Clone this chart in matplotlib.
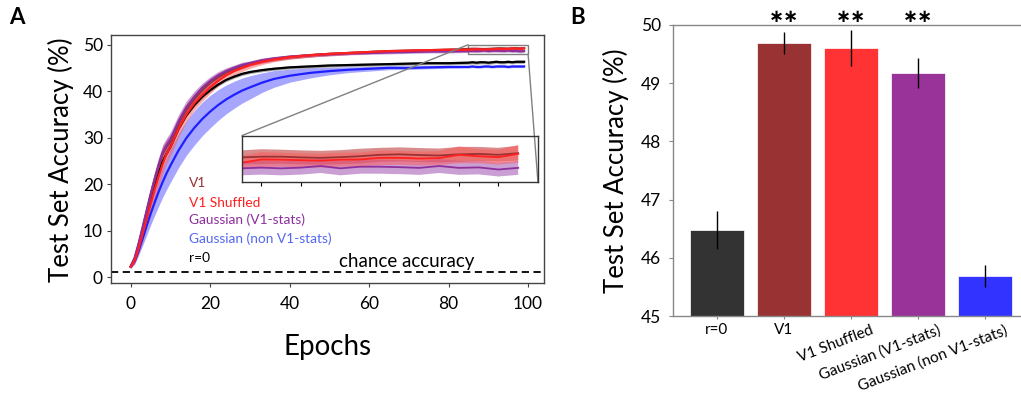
import numpy as np
import matplotlib
matplotlib.use("Agg")
import matplotlib.pyplot as plt
from matplotlib.transforms import ScaledTranslation
from mpl_toolkits.axes_grid1.inset_locator import mark_inset

plt.rcParams['font.family'] = ['Lato', 'DejaVu Sans']

# ---------------- data: panel A ----------------
epochs = [0, 1, 2, 3, 4, 5, 6, 7, 8, 9, 10, 12, 14, 16, 18, 20, 22, 24, 26, 28, 30,
          33, 36, 40, 45, 50, 55, 60, 65, 70, 75, 80,
          85, 86, 87, 88, 89, 90, 91, 92, 93, 94, 95, 96, 97, 98, 99]

acc_v1 = [2.3, 4.0, 7.0, 10.5, 14.0, 17.5, 20.8, 23.8, 26.5, 28.0, 29.2, 33.0, 36.0, 38.3, 40.2,
          41.8, 43.0, 44.0, 44.8, 45.4, 45.9, 46.5, 46.9, 47.3, 47.7, 48.0, 48.2, 48.4, 48.6,
          48.7, 48.8, 48.9,
          49.07, 49.10, 49.10, 49.07, 49.05, 49.08, 49.12, 49.18, 49.20, 49.17, 49.15, 49.20,
          49.22, 49.18, 49.25]
acc_shuf = [2.2, 3.6, 6.2, 9.3, 12.5, 15.7, 18.8, 21.6, 24.2, 26.5, 28.0, 31.8, 35.0, 37.4, 39.2,
            40.8, 42.2, 43.4, 44.3, 45.0, 45.6, 46.3, 46.8, 47.3, 47.7, 48.0, 48.2, 48.4, 48.6,
            48.7, 48.8, 48.9,
            48.84, 48.98, 48.97, 48.95, 48.93, 48.97, 48.98, 49.05, 49.05, 49.02, 49.04, 49.18,
            49.12, 49.08, 49.22]
acc_gauss = [2.3, 4.2, 7.3, 10.8, 14.3, 17.8, 21.0, 24.0, 26.7, 28.3, 29.6, 33.4, 36.5, 38.8, 40.7,
             42.2, 43.4, 44.3, 45.0, 45.6, 46.0, 46.6, 47.0, 47.4, 47.7, 47.9, 48.1, 48.2, 48.3,
             48.4, 48.5, 48.5,
             48.60, 48.63, 48.60, 48.63, 48.70, 48.60, 48.67, 48.67, 48.65, 48.62, 48.70, 48.62,
             48.64, 48.55, 48.62]
acc_nonv1 = [2.2, 3.4, 5.7, 8.3, 11.0, 13.6, 16.0, 18.3, 20.4, 22.3, 24.0, 27.2, 29.9, 32.1, 34.0,
             35.6, 37.0, 38.2, 39.2, 40.1, 40.8, 41.8, 42.6, 43.3, 43.9, 44.3, 44.6, 44.8, 45.0,
             45.0, 45.1, 45.2,
             45.2, 45.3, 45.2, 45.2, 45.3, 45.3, 45.2, 45.3, 45.3, 45.3, 45.2, 45.3, 45.3, 45.3, 45.3]
acc_r0 = [2.3, 3.9, 6.8, 10.0, 13.3, 16.5, 19.5, 22.3, 24.8, 26.5, 28.0, 31.8, 34.8, 37.0, 38.8,
          40.2, 41.4, 42.4, 43.1, 43.7, 44.1, 44.5, 44.8, 45.1, 45.3, 45.5, 45.6, 45.7, 45.8,
          45.9, 46.0, 46.0,
          46.1, 46.2, 46.1, 46.2, 46.2, 46.1, 46.2, 46.3, 46.2, 46.2, 46.3, 46.2, 46.3, 46.3, 46.3]

# half-widths of shaded bands
sd_v1 = [0.3, 0.6, 1.0, 1.3, 1.5, 1.6, 1.6, 1.6, 1.5, 1.5, 1.4, 1.3, 1.2, 1.1, 1.0,
         0.9, 0.8, 0.7, 0.6, 0.6, 0.5, 0.5, 0.45, 0.4, 0.4, 0.35, 0.35, 0.35, 0.3, 0.3, 0.3, 0.3,
         0.3, 0.32, 0.3, 0.3, 0.3, 0.3, 0.32, 0.3, 0.3, 0.3, 0.3, 0.32, 0.3, 0.3, 0.32]
sd_shuf = [0.3, 0.7, 1.2, 1.6, 1.9, 2.1, 2.2, 2.2, 2.2, 2.1, 2.0, 1.8, 1.6, 1.5, 1.4,
           1.3, 1.1, 1.0, 0.9, 0.8, 0.7, 0.6, 0.5, 0.45, 0.4, 0.35, 0.35, 0.35, 0.3, 0.3, 0.3, 0.3,
           0.3, 0.32, 0.3, 0.3, 0.3, 0.3, 0.3, 0.32, 0.3, 0.3, 0.3, 0.36, 0.3, 0.32, 0.38]
sd_gauss = [0.3, 0.6, 1.0, 1.3, 1.5, 1.6, 1.7, 1.7, 1.7, 1.6, 1.6, 1.5, 1.4, 1.2, 1.0,
            0.9, 0.8, 0.7, 0.6, 0.6, 0.5, 0.5, 0.45, 0.4, 0.35, 0.35, 0.3, 0.3, 0.3, 0.3, 0.3, 0.3,
            0.3, 0.3, 0.3, 0.3, 0.3, 0.3, 0.3, 0.3, 0.3, 0.3, 0.3, 0.3, 0.3, 0.3, 0.3]
sd_nonv1 = [0.3, 0.6, 1.0, 1.5, 2.0, 2.4, 2.8, 3.1, 3.3, 3.5, 3.6, 3.7, 3.7, 3.7, 3.6,
            3.5, 3.3, 3.1, 2.9, 2.7, 2.5, 2.1, 1.8, 1.4, 1.1, 0.8, 0.6, 0.5, 0.4, 0.35, 0.3, 0.3,
            0.25, 0.25, 0.25, 0.25, 0.25, 0.25, 0.25, 0.25, 0.25, 0.25, 0.25, 0.25, 0.25, 0.25, 0.25]
sd_r0 = [0.35] * len(epochs)

chance_level = 1.0

# ---------------- data: panel B ----------------
bar_labels = ['r=0', 'V1', 'V1 Shuffled', 'Gaussian (V1-stats)', 'Gaussian (non V1-stats)']
bar_values = [46.48, 49.69, 49.61, 49.17, 45.69]
bar_errors = [0.33, 0.19, 0.31, 0.26, 0.19]
bar_signif = ['', '∗∗', '∗∗', '∗∗', '']
bar_rotation = [0, 0, 21, 21, 21]

# ---------------- styles ----------------
col_v1 = '#993333'
col_shuf = '#FF2020'
col_gauss = '#8E2F9E'
col_nonv1 = '#1F1FFF'
col_r0 = '#000000'
bar_colors = ['#333333', '#993333', '#FF3333', '#993399', '#3333FF']

fig = plt.figure(figsize=(10.21, 3.93), dpi=100)

# ================= Panel A =================
axA = fig.add_axes([0.109, 0.2791, 0.4238, 0.6311])
ep = np.array(epochs)

series = [
    (acc_r0, sd_r0, col_r0, '#777777', 0.6),
    (acc_nonv1, sd_nonv1, col_nonv1, '#6B6BFF', 0.6),
    (acc_v1, sd_v1, col_v1, '#C04040', 0.6),
    (acc_gauss, sd_gauss, col_gauss, '#A050B0', 0.55),
    (acc_shuf, sd_shuf, col_shuf, '#FF5A5A', 0.5),
]

def draw_series(ax, lw):
    for vals, sd, lc, fc, al in series:
        v = np.array(vals)
        s = np.array(sd)
        ax.fill_between(ep, v - s, v + s, color=fc, alpha=al, lw=0)
        ax.plot(ep, v, color=lc, lw=lw)

draw_series(axA, 1.6)
axA.axhline(chance_level, color='black', ls=(0, (4, 2.5)), lw=1.3)

axA.set_xlim(-4.9, 104)
axA.set_ylim(-1.35, 52.0)
axA.set_xticks([0, 20, 40, 60, 80, 100])
axA.set_yticks([0, 10, 20, 30, 40, 50])
axA.tick_params(labelsize=12.5, length=3, width=0.8, color='#444444', direction='out')
axA.tick_params(axis='x', pad=6)
axA.tick_params(axis='y', pad=3)
for sp in axA.spines.values():
    sp.set_color('#444444')
    sp.set_linewidth(1.0)
axA.set_xlabel('Epochs', fontsize=20, labelpad=16)
axA.set_ylabel('Test Set Accuracy (%)', fontsize=18.5, labelpad=6)

leg_text = [('V1', col_v1, 20.3), ('V1 Shuffled', col_shuf, 16.0),
            ('Gaussian (V1-stats)', col_gauss, 12.3),
            ('Gaussian (non V1-stats)', '#5468F0', 8.3), ('r=0', 'black', 4.1)]
for t, c, yv in leg_text:
    axA.text(14.6, yv, t, color=c, fontsize=9.9, va='center', ha='left')
axA.text(52.4, 2.2, 'chance accuracy', fontsize=13.5, va='baseline', ha='left')

# inset
axI = fig.add_axes([0.2367, 0.5361, 0.2902, 0.1186])
draw_series(axI, 1.3)
axI.set_xlim(85, 100)
axI.set_ylim(48.0, 50.0)
axI.set_xticks([86, 88, 90, 92, 94, 96, 98])
axI.set_xticklabels([])
axI.set_yticks([])
axI.tick_params(axis='x', length=3, width=0.8, direction='out')
for sp in axI.spines.values():
    sp.set_color('#333333')
    sp.set_linewidth(1.0)
mark_inset(axA, axI, loc1=2, loc2=4, fc='none', ec='#808080', lw=1.0)

fig.text(0.017, 0.955, 'A', fontsize=16, fontweight='bold', va='center', ha='center')

# ================= Panel B =================
axB = fig.add_axes([0.6595, 0.1959, 0.3405, 0.7405])
xpos = np.arange(len(bar_labels))
axB.bar(xpos, [v - 45 for v in bar_values], bottom=45, width=0.8, color=bar_colors,
        edgecolor='#ffffff', linewidth=0.5)
axB.errorbar(xpos, bar_values, yerr=bar_errors, fmt='none', ecolor='black', elinewidth=1.0,
             capsize=0)
for x, s in zip(xpos, bar_signif):
    if s:
        axB.text(x, 50.14, s, ha='center', va='center', fontsize=13, fontweight='bold',
                 family='DejaVu Sans', clip_on=False)
axB.set_xlim(-0.65, 4.54)
axB.set_ylim(45, 50)
axB.set_yticks([45, 46, 47, 48, 49, 50])
axB.tick_params(axis='y', labelsize=12.5, length=3, width=0.8, color='#888888', pad=6)
axB.tick_params(axis='x', labelsize=11, length=2, width=0.8, color='#888888', pad=3)
for k in ['left', 'top', 'bottom']:
    axB.spines[k].set_color('#888888')
    axB.spines[k].set_linewidth(1.0)
axB.spines['right'].set_visible(False)
axB.set_xticks(xpos)
axB.set_xticklabels(bar_labels)
offset = ScaledTranslation(0.2, 0.0, fig.dpi_scale_trans)
for lbl, rot in zip(axB.get_xticklabels(), bar_rotation):
    if rot:
        lbl.set_rotation(rot)
        lbl.set_ha('right')
        lbl.set_rotation_mode('anchor')
        lbl.set_transform(lbl.get_transform() + offset)
axB.set_ylabel('Test Set Accuracy (%)', fontsize=18.5, labelpad=8)

fig.text(0.566, 0.955, 'B', fontsize=16, fontweight='bold', va='center', ha='center')

fig.savefig('out.png', dpi=100)
